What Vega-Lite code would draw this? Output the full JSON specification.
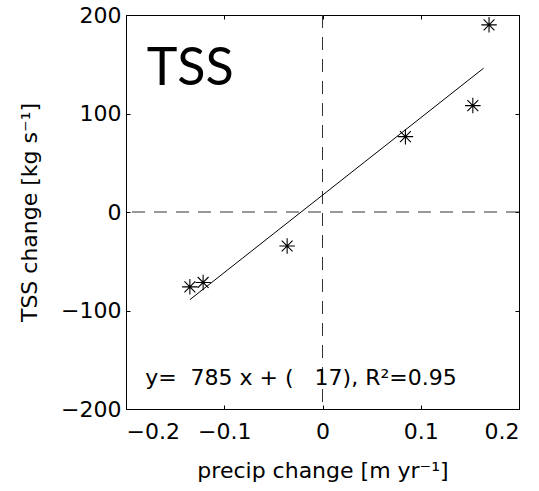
{
  "$schema": "https://vega.github.io/schema/vega-lite/v6.json",
  "width": 393,
  "height": 394,
  "autosize": "none",
  "padding": {"left": 126, "top": 15, "right": 20, "bottom": 82},
  "background": "white",
  "config": {
    "view": {"stroke": "black", "strokeWidth": 1},
    "font": "DejaVu Sans",
    "axis": {
      "grid": false,
      "domain": false,
      "tickColor": "black",
      "tickSize": -4,
      "labelColor": "black",
      "titleColor": "black",
      "labelFont": "DejaVu Sans",
      "titleFont": "DejaVu Sans",
      "labelFontSize": 22,
      "titleFontSize": 22,
      "titleFontWeight": "normal"
    }
  },
  "datasets": {
    "pts": [
      {"x": -0.135, "y": -76},
      {"x": -0.1215, "y": -71.5},
      {"x": -0.036, "y": -34.5},
      {"x": 0.0844, "y": 76.5},
      {"x": 0.153, "y": 108},
      {"x": 0.1695, "y": 190}
    ],
    "fit": [
      {"x": -0.135, "y": -89},
      {"x": 0.164, "y": 146}
    ]
  },
  "layer": [
    {
      "data": {"values": [{"v": 0}]},
      "mark": {"type": "rule", "color": "#333", "strokeWidth": 1, "strokeDash": [13, 9]},
      "encoding": {
        "x": {"field": "v", "type": "quantitative", "scale": {"domain": [-0.2, 0.2], "nice": false, "zero": false},
          "axis": {"orient": "bottom", "values": [-0.2, -0.1, 0, 0.1, 0.2], "format": "~g", "labelPadding": 16, "title": "precip change [m yr⁻¹]", "titlePadding": 18}}
      }
    },
    {
      "data": {"values": [{"v": 0}]},
      "mark": {"type": "rule", "color": "#333", "strokeWidth": 1, "strokeDash": [13, 9]},
      "encoding": {
        "y": {"field": "v", "type": "quantitative", "scale": {"domain": [-200, 200], "nice": false, "zero": false},
          "axis": {"orient": "left", "values": [-200, -100, 0, 100, 200], "labelPadding": 9, "title": "TSS change [kg s⁻¹]", "titlePadding": 19}}
      }
    },
    {
      "data": {"name": "fit"},
      "mark": {"type": "line", "color": "black", "strokeWidth": 1},
      "encoding": {
        "x": {"field": "x", "type": "quantitative", "axis": {"orient": "top", "values": [-0.2, -0.1, 0, 0.1, 0.2], "labels": false, "title": null}},
        "y": {"field": "y", "type": "quantitative", "axis": {"orient": "right", "values": [-200, -100, 0, 100, 200], "labels": false, "title": null}}
      }
    },
    {
      "data": {"name": "pts"},
      "mark": {"type": "point", "shape": "M-1,0L1,0M0,-1L0,1M-0.7,-0.7L0.7,0.7M-0.7,0.7L0.7,-0.7", "filled": false, "stroke": "black", "strokeWidth": 1.1, "size": 240, "opacity": 1},
      "encoding": {
        "x": {"field": "x", "type": "quantitative", "axis": null},
        "y": {"field": "y", "type": "quantitative", "axis": null}
      }
    },
    {
      "data": {"values": [{"x": -0.1805, "y": -175.6, "t": "y=\u00a0\u00a0785 x + (\u00a0\u00a0\u00a017), R²=0.95"}]},
      "mark": {"type": "text", "align": "left", "baseline": "alphabetic", "fontSize": 22, "font": "DejaVu Sans", "color": "black"},
      "encoding": {
        "x": {"field": "x", "type": "quantitative", "axis": null},
        "y": {"field": "y", "type": "quantitative", "axis": null},
        "text": {"field": "t"}
      }
    },
    {
      "data": {"values": [{"x": -0.179, "y": 129, "t": "TSS"}]},
      "mark": {"type": "text", "align": "left", "baseline": "alphabetic", "fontSize": 52, "font": "Lato", "color": "black"},
      "encoding": {
        "x": {"field": "x", "type": "quantitative", "axis": null},
        "y": {"field": "y", "type": "quantitative", "axis": null},
        "text": {"field": "t"}
      }
    }
  ]
}
